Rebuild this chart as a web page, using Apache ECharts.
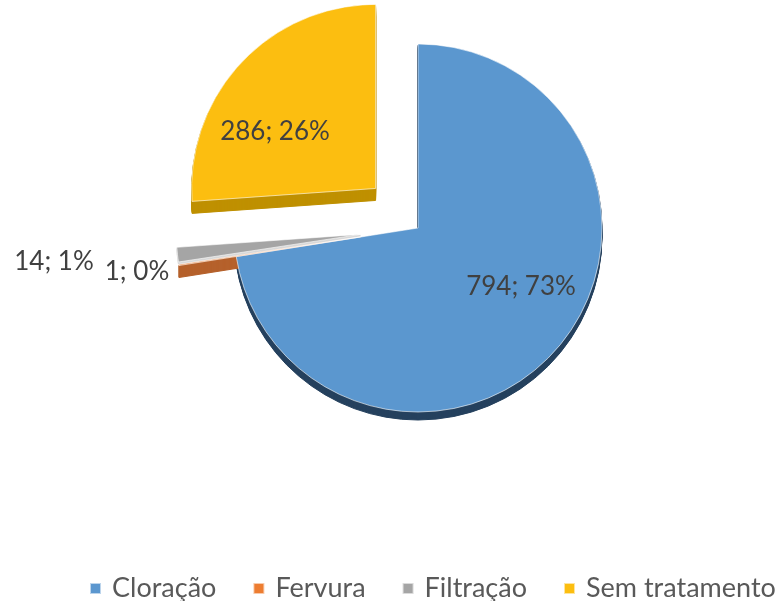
<!DOCTYPE html>
<html>
<head>
<meta charset="utf-8">
<script src="https://cdn.jsdelivr.net/npm/echarts@6/dist/echarts.min.js"></script>
<style>
html, body { margin: 0; padding: 0; background: #fff; }
#chart { width: 779px; height: 601px; }
</style>
</head>
<body>
<div id="chart"></div>
<script>
const categories = ['Cloração', 'Fervura', 'Filtração', 'Sem tratamento']
const values = [794, 1, 14, 286]

const topColors = ['#5b97cf', '#ed7d31', '#a5a5a5', '#fcbe10']
const sideColors = ['#25415e', '#b5602a', '#d8d8d8', '#bf9000']
// extruded side height of each slice, px
const sideHeights = [8, 12, 2, 12]
const exploded = [false, true, true, true]
// label centres
const labelAt = [[521, 287], [137, 272], [54, 262], [275, 132]]

const cx = 418
const cy = 228
const radius = 184
const fontFamily = 'Lato, "Open Sans", sans-serif'
const clear = 'rgba(0,0,0,0)'

const baseSeries = {
  type: 'pie',
  radius: radius,
  startAngle: 90,
  clockwise: true,
  selectedMode: 'multiple',
  selectedOffset: 58,
  percentPrecision: 0,
  animation: false,
  silent: true,
  label: { show: false },
  labelLine: { show: false }
}

// top face first so the legend picks up its colours
const series = [Object.assign({}, baseSeries, {
  z: 3,
  center: [cx, cy],
  data: categories.map((name, i) => ({
    name: name,
    value: values[i],
    selected: exploded[i],
    itemStyle: {
      color: topColors[i],
      borderColor: 'rgba(255,255,255,0.6)',
      borderWidth: 1
    }
  }))
})]

// stacked copies make the side of each slice
for (let h = 12; h >= 1; h--) {
  series.push(Object.assign({}, baseSeries, {
    z: 2,
    center: [cx, cy + h],
    data: categories.map((name, i) => {
      const color = h > sideHeights[i] ? clear : sideColors[i]
      return {
        name: name,
        value: values[i],
        selected: exploded[i],
        itemStyle: { color: color, borderColor: color, borderWidth: 1 }
      }
    })
  }))
}

// invisible unselected copy that only carries the value labels
series.push(Object.assign({}, baseSeries, {
  z: 4,
  center: [cx, cy],
  itemStyle: { color: clear },
  data: categories.map((name, i) => ({ name: name, value: values[i] })),
  label: {
    show: true,
    position: 'inside',
    formatter: '{c}; {d}%',
    color: '#404040',
    fontSize: 26,
    fontFamily: fontFamily
  },
  labelLayout: params => ({
    x: labelAt[params.dataIndex][0],
    y: labelAt[params.dataIndex][1],
    align: 'center',
    verticalAlign: 'middle'
  })
}))

const chart = echarts.init(document.getElementById('chart'))
chart.setOption({
  backgroundColor: '#fff',
  animation: false,
  legend: {
    data: categories,
    left: 89,
    top: 575,
    width: 690,
    padding: 0,
    icon: 'rect',
    itemWidth: 11,
    itemHeight: 11,
    itemGap: 36,
    selectedMode: false,
    textStyle: {
      color: '#595959',
      fontSize: 27,
      padding: [0, 0, 0, 6],
      fontFamily: fontFamily
    }
  },
  series: series
})
</script>
</body>
</html>
